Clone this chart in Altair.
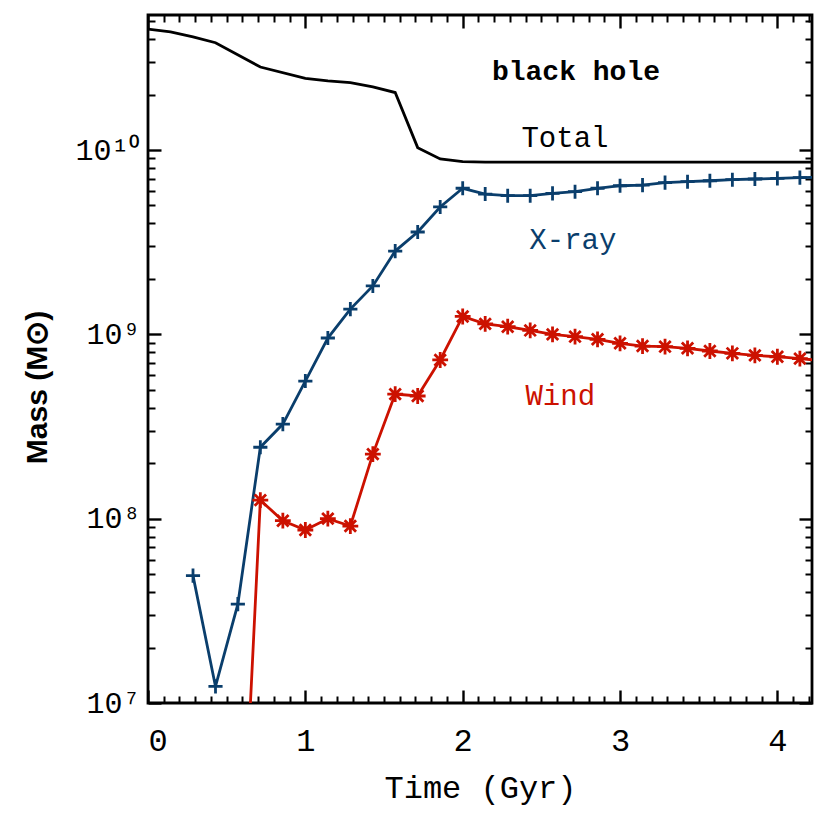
import altair as alt
import pandas as pd

# ---- data ----
total_t = [0.0, 0.143, 0.286, 0.429, 0.714, 1.0, 1.143, 1.286, 1.429, 1.571, 1.714, 1.857, 2.0,
           2.143, 2.286, 2.429, 2.571, 2.714, 2.857, 3.0, 3.143, 3.286, 3.429, 3.571, 3.714,
           3.857, 4.0, 4.143, 4.286]
total_m = [4.53e10, 4.37e10, 4.11e10, 3.82e10, 2.82e10, 2.45e10, 2.37e10, 2.32e10, 2.20e10,
           2.05e10, 1.03e10, 8.94e9, 8.64e9,
           8.6e9, 8.6e9, 8.6e9, 8.6e9, 8.6e9, 8.6e9, 8.6e9, 8.6e9, 8.6e9, 8.6e9, 8.6e9, 8.6e9,
           8.6e9, 8.6e9, 8.6e9, 8.6e9]

xray_t = [0.286, 0.429, 0.571, 0.714, 0.857, 1.0, 1.143, 1.286, 1.429, 1.571, 1.714, 1.857,
          2.0, 2.143, 2.286, 2.429, 2.571, 2.714, 2.857, 3.0, 3.143, 3.286, 3.429, 3.571,
          3.714, 3.857, 4.0, 4.143, 4.286]
xray_m = [4.91e7, 1.23e7, 3.44e7, 2.44e8, 3.26e8, 5.58e8, 9.55e8, 1.37e9, 1.83e9, 2.83e9,
          3.59e9, 4.91e9, 6.20e9, 5.77e9, 5.65e9, 5.65e9, 5.82e9, 5.94e9, 6.20e9, 6.40e9,
          6.45e9, 6.65e9, 6.73e9, 6.81e9, 6.90e9, 6.96e9, 7.02e9, 7.08e9, 7.13e9]

wind_t = [0.571, 0.714, 0.857, 1.0, 1.143, 1.286, 1.429, 1.571, 1.714, 1.857, 2.0, 2.143,
          2.286, 2.429, 2.571, 2.714, 2.857, 3.0, 3.143, 3.286, 3.429, 3.571, 3.714, 3.857,
          4.0, 4.143, 4.286]
wind_m = [4.0e5, 1.26e8, 9.75e7, 8.68e7, 1.00e8, 9.12e7, 2.24e8, 4.74e8, 4.63e8, 7.26e8,
          1.25e9, 1.14e9, 1.10e9, 1.05e9, 1.00e9, 9.71e8, 9.40e8, 8.94e8, 8.64e8, 8.57e8,
          8.40e8, 8.12e8, 7.89e8, 7.69e8, 7.56e8, 7.38e8, 7.20e8]

label_text = ["black hole", "Total", "X-ray", "Wind"]
label_t = [2.72, 2.65, 2.70, 2.62]
label_m = [2.65e10, 1.16e10, 3.25e9, 4.62e8]

x_major = [0, 1, 2, 3, 4]
x_minor = [round(k / 10, 1) for k in range(0, 43) if k % 10 != 0]
y_major = [1e7, 1e8, 1e9, 1e10]
y_minor = [m * 10 ** e for e in (7, 8, 9, 10) for m in range(2, 10) if m * 10 ** e <= 5.4e10]

BLUE = "#0a3e6c"
RED = "#cc1100"
MONO = "Liberation Mono"

xs = alt.Scale(domain=[0, 4.22], nice=False, zero=False)
ys = alt.Scale(type="log", domain=[1e7, 5.4e10], nice=False)

df_total = pd.DataFrame({"t": total_t, "m": total_m})
df_xray = pd.DataFrame({"t": xray_t, "m": xray_m})
df_wind = pd.DataFrame({"t": wind_t, "m": wind_m})
df_axis = pd.DataFrame({"t": [0.0, 4.0], "m": [1e7, 1e10]})

PLUS = "M-1,0L1,0M0,-1L0,1"
STAR = "M-1,0L1,0M0,-1L0,1M-0.72,-0.72L0.72,0.72M-0.72,0.72L0.72,-0.72"


def enc(df_chart, xaxis=None, yaxis=None):
    return df_chart.encode(
        x=alt.X("t:Q", scale=xs, axis=xaxis),
        y=alt.Y("m:Q", scale=ys, axis=yaxis),
    )


layers = []
# data lines
layers.append(enc(alt.Chart(df_total).mark_line(color="black", strokeWidth=2.8, clip=True)))
layers.append(enc(alt.Chart(df_xray).mark_line(color=BLUE, strokeWidth=2.8, clip=True)))
layers.append(enc(alt.Chart(df_xray).mark_point(shape=PLUS, size=200, filled=False, color=BLUE,
                                                  strokeWidth=2.8, opacity=1, clip=True)))
layers.append(enc(alt.Chart(df_wind).mark_line(color=RED, strokeWidth=2.8, clip=True)))
layers.append(enc(alt.Chart(df_wind).mark_point(shape=STAR, size=250, filled=False, color=RED,
                                                  strokeWidth=2.8, opacity=1, clip=True)))

# labels
label_style = [
    (0, "black", 28, "bold"),
    (1, "black", 29, "normal"),
    (2, BLUE, 29, "normal"),
    (3, RED, 29, "normal"),
]
for idx, col, fs, fw in label_style:
    d = pd.DataFrame({"t": [label_t[idx]], "m": [label_m[idx]], "txt": [label_text[idx]]})
    layers.append(enc(alt.Chart(d).mark_text(font=MONO, fontSize=fs, fontWeight=fw, color=col,
                                              align="center", baseline="middle")).encode(text="txt:N"))

# labeled axes (no ticks)
x_lab_axis = alt.Axis(orient="bottom", values=x_major, ticks=False, domain=False, grid=False,
                      labelFont=MONO, labelFontSize=32, labelColor="black", labelPadding=22,
                      labelBaseline="top", format="d",
                      title="Time (Gyr)", titleFont=MONO, titleFontSize=32, titleFontWeight="normal",
                      titleColor="black", titleX=332, titleY=84, titleBaseline="middle",
                      titleAnchor="middle", titleAlign="center")
layers.append(enc(alt.Chart(df_axis).mark_point(opacity=0), xaxis=x_lab_axis))

y_lab_axis = alt.Axis(orient="left", values=y_major, ticks=False, domain=False, grid=False,
                      labelFont=MONO, labelFontSize=30, labelColor="black", labelPadding=8,
                      labelBaseline="middle",
                      labelExpr="datum.value < 5e7 ? '10⁷' : datum.value < 5e8 ? '10⁸' : datum.value < 5e9 ? '10⁹' : '10¹⁰'",
                      title="Mass (M⊙)", titleFont="Liberation Sans", titleFontSize=30,
                      titleFontWeight="bold", titleColor="black", titleAngle=270,
                      titleX=-111, titleY=372, titleBaseline="middle", titleAlign="center")
layers.append(enc(alt.Chart(df_axis).mark_point(opacity=0), yaxis=y_lab_axis))


def tick_axis(orient, values, size, width):
    return alt.Axis(orient=orient, values=values, tickSize=size, offset=-size, labels=False,
                    domain=False, grid=False, title=None, tickColor="black", tickWidth=width,
                    ticks=True)


for orient in ("bottom", "top"):
    layers.append(enc(alt.Chart(df_axis).mark_point(opacity=0),
                      xaxis=tick_axis(orient, x_major, 13, 2.4)))
    layers.append(enc(alt.Chart(df_axis).mark_point(opacity=0),
                      xaxis=tick_axis(orient, x_minor, 7, 2.0)))
for orient in ("left", "right"):
    layers.append(enc(alt.Chart(df_axis).mark_point(opacity=0),
                      yaxis=tick_axis(orient, y_major, 13, 2.4)))
    layers.append(enc(alt.Chart(df_axis).mark_point(opacity=0),
                      yaxis=tick_axis(orient, y_minor, 7, 2.0)))

chart = alt.layer(*layers).resolve_axis(x="independent", y="independent").properties(
    width=664,
    height=688,
    autosize=alt.AutoSizeParams(type="none"),
    padding={"left": 140, "top": 7, "right": 10, "bottom": 115},
    background="white",
).configure_view(stroke="black", strokeWidth=2.8, strokeOpacity=1)

chart.save("out.html", embed_options={"renderer": "svg", "actions": False})
